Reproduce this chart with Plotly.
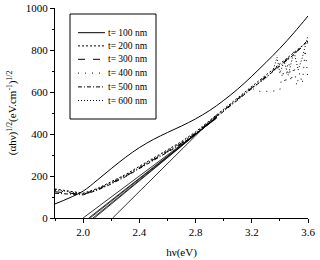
import plotly.graph_objects as go

# ---- data ----
x_grid = [1.8, 1.9, 2.0, 2.1, 2.2, 2.3, 2.4, 2.5, 2.6, 2.7, 2.8, 2.9, 3.0, 3.1, 3.2, 3.3, 3.4, 3.5, 3.6]

y_100 = [67, 95, 128, 180, 235, 288, 335, 374, 407, 438, 472, 512, 560, 614, 675, 740, 808, 882, 962]
y_200 = [138, 128, 118, 140, 172, 206, 246, 284, 324, 364, 410, 464, 518, 572, 626, 680, 734, 788, 842]
y_300 = [125, 120, 112, 135, 165, 198, 238, 276, 316, 356, 404, 458, 512, 566, 620, 674, 728, 782, 836]
y_500 = [118, 115, 110, 132, 162, 196, 235, 273, 312, 352, 400, 454, 508, 562, 616, 670, 724, 778, 848]

x_400 = [1.8, 1.9, 2.0, 2.1, 2.2, 2.3, 2.4, 2.5, 2.6, 2.7, 2.8, 2.9, 3.0, 3.1, 3.2, 3.23, 3.27, 3.3, 3.35, 3.4,
         3.42, 3.44, 3.46, 3.48, 3.5, 3.52, 3.54, 3.56, 3.58, 3.6]
y_400 = [130, 124, 115, 138, 170, 203, 242, 280, 320, 360, 406, 460, 514, 568, 622, 603, 605, 603, 604, 610,
         700, 640, 760, 650, 720, 630, 690, 640, 800, 660]

x_600 = [1.8, 1.9, 2.0, 2.1, 2.2, 2.3, 2.4, 2.5, 2.6, 2.7, 2.8, 2.9, 3.0, 3.1, 3.2, 3.3, 3.35, 3.38, 3.4,
         3.43, 3.46, 3.5, 3.53, 3.56, 3.6]
y_600 = [135, 125, 114, 136, 168, 201, 240, 278, 318, 358, 405, 459, 513, 567, 620, 665, 700, 765, 690,
         745, 680, 795, 705, 765, 870]

# extrapolated linear fits: x-intercepts and end points
tan_x0 = [2.00, 2.04, 2.05, 2.07, 2.08, 2.21]
tan_x1 = [2.95, 2.95, 2.95, 2.95, 2.95, 2.95]
tan_y1 = [475, 478, 478, 480, 480, 491]

labels = ["t= 100 nm", "t= 200 nm", "t= 300 nm", "t= 400 nm", "t= 500 nm", "t= 600 nm"]

x_ticks = [2.0, 2.4, 2.8, 3.2, 3.6]
y_ticks = [0, 200, 400, 600, 800, 1000]

FONT = "Liberation Serif"
dashes = ["solid", "2px,2px", "7px,8px", "1px,6px", "4px,2px,1px,2px", "1px,2px"]

fig = go.Figure()

for a, b, c in zip(tan_x0, tan_x1, tan_y1):
    fig.add_trace(go.Scatter(x=[a, b], y=[0, c], mode="lines",
                             line=dict(color="black", width=0.8), showlegend=False,
                             hoverinfo="skip"))

series = [(x_grid, y_100), (x_grid, y_200), (x_grid, y_300),
          (x_400, y_400), (x_grid, y_500), (x_600, y_600)]
for i, ((xs, ys), dash, name) in enumerate(zip(series, dashes, labels)):
    fig.add_trace(go.Scatter(x=xs, y=ys, mode="lines", name=name, showlegend=False,
                             line=dict(color="black", width=1, dash=dash,
                                       shape="spline" if i == 0 else "linear")))

# ---- hand-built legend (paper coordinates) ----
W, H, L, T = 253.0, 210.0, 55.0, 8.0
def px(xp):
    return (xp - L) / W
def py(yp):
    return 1 - (yp - T) / H

shapes = [dict(type="rect", xref="paper", yref="paper", x0=px(70), x1=px(156),
               y0=py(119), y1=py(14), line=dict(color="black", width=1), fillcolor="white",
               layer="above")]
annots = []
entry_y = [32.7, 45.9, 59.3, 73.1, 86.9, 100.5]
for yy, dash, name in zip(entry_y, dashes, labels):
    shapes.append(dict(type="line", xref="paper", yref="paper", x0=px(78), x1=px(105),
                       y0=py(yy), y1=py(yy), line=dict(color="black", width=1, dash=dash),
                       layer="above"))
    annots.append(dict(xref="paper", yref="paper", x=px(105.5), y=py(yy), text=name,
                       showarrow=False, xanchor="left", yanchor="middle",
                       font=dict(family=FONT, size=9.5, color="black")))

fig.update_layout(
    width=320, height=260,
    margin=dict(l=55, r=12, t=8, b=42),
    paper_bgcolor="white", plot_bgcolor="white",
    font=dict(family=FONT, size=11, color="black"),
    showlegend=False,
    shapes=shapes, annotations=annots,
)
fig.update_xaxes(range=[1.8, 3.6], tickvals=x_ticks, ticktext=["2.0", "2.4", "2.8", "3.2", "3.6"],
                 ticks="outside", ticklen=4, tickcolor="black", showline=True, linecolor="black",
                 linewidth=1, showgrid=False, zeroline=False, automargin=False,
                 tickfont=dict(family=FONT, size=11),
                 minor=dict(tickvals=[1.8, 2.2, 2.6, 3.0, 3.4], ticks="outside", ticklen=2, tickcolor="black"),
                 title=dict(text="hν(eV)", font=dict(family=FONT, size=11), standoff=11))
fig.update_yaxes(range=[0, 1000], tickvals=y_ticks, ticks="outside", ticklen=4, tickcolor="black",
                 showline=True, linecolor="black", linewidth=1, showgrid=False, zeroline=False,
                 automargin=False, tickfont=dict(family=FONT, size=11),
                 minor=dict(tickvals=[100, 300, 500, 700, 900], ticks="outside", ticklen=2, tickcolor="black"),
                 title=dict(text="(αhν)<sup>1/2</sup>(eV.cm<sup>-1</sup>)<sup>1/2</sup>",
                            font=dict(family=FONT, size=11), standoff=6))

fig.write_html("out.html", config={"displayModeBar": False},
               post_script="document.body.style.margin='0px';document.body.style.overflow='hidden';")
